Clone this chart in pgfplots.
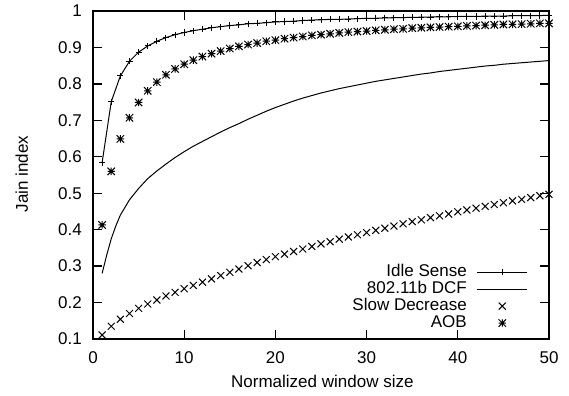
\documentclass[border=0pt]{standalone}
\usepackage{fontspec}
\setmainfont{Liberation Sans}
\usepackage{pgfplots}
\pgfplotsset{compat=1.18}
\pgfdeclareplotmark{gpstar}{%
  \pgfpathmoveto{\pgfqpoint{-\pgfplotmarksize}{0pt}}\pgfpathlineto{\pgfqpoint{\pgfplotmarksize}{0pt}}%
  \pgfpathmoveto{\pgfqpoint{0pt}{-\pgfplotmarksize}}\pgfpathlineto{\pgfqpoint{0pt}{\pgfplotmarksize}}%
  \pgfpathmoveto{\pgfqpoint{-\pgfplotmarksize}{-\pgfplotmarksize}}\pgfpathlineto{\pgfqpoint{\pgfplotmarksize}{\pgfplotmarksize}}%
  \pgfpathmoveto{\pgfqpoint{-\pgfplotmarksize}{\pgfplotmarksize}}\pgfpathlineto{\pgfqpoint{\pgfplotmarksize}{-\pgfplotmarksize}}%
  \pgfusepathqstroke}
\newcommand{\gfont}{\fontsize{17bp}{20bp}\selectfont}
\begin{document}
\begin{tikzpicture}
\begin{axis}[
  scale only axis,
  width=456bp, height=328bp,
  xmin=0, xmax=50, ymin=0.1, ymax=1,
  xtick={0,10,20,30,40,50},
  ytick={0.1,0.2,0.3,0.4,0.5,0.6,0.7,0.8,0.9,1},
  yticklabels={0.1,0.2,0.3,0.4,0.5,0.6,0.7,0.8,0.9,1},
  /pgf/number format/assume math mode=true,
  tick label style={font=\gfont, inner sep=0pt},
  xticklabel shift=12.5bp,
  yticklabel shift=11bp,
  tick align=inside,
  major tick length=9bp,
  tick style={line width=1.3bp, black},
  axis line style={line width=1.7bp},
  clip=false,
  xlabel={Normalized window size},
  ylabel={Jain index},
  label style={font=\gfont},
  xlabel style={at={(axis description cs:0.503,-0.149)}, anchor=base},
  ylabel style={at={(axis description cs:-0.156,0.503)}, anchor=center},
  legend plot pos=right,
  legend cell align=right,
  legend image code/.code={\draw[mark repeat=2,mark phase=2,#1] plot coordinates {(0bp,0bp) (25bp,0bp) (50bp,0bp)};},
  legend style={draw=none, fill=none, font=\gfont, at={(0.9539,0.0238)}, anchor=south east,
    inner sep=0pt, column sep=10bp, row sep=1bp,
    nodes={inner sep=0pt, text height=12.4bp, text depth=3.5bp}},
]
\coordinate (SW) at (rel axis cs:0,0);
\coordinate (NE) at (rel axis cs:1,1);
% Idle Sense
\addplot[black, line width=1bp, mark=+, mark size=3.1bp, mark options={line width=1bp}] coordinates {
(1,0.584)(2,0.751)(3,0.822)(4,0.862)(5,0.887)(6,0.904)(7,0.917)(8,0.927)(9,0.935)(10,0.941)
(11,0.946)(12,0.950)(13,0.954)(14,0.957)(15,0.960)(16,0.962)(17,0.965)(18,0.966)(19,0.968)(20,0.970)
(21,0.971)(22,0.972)(23,0.974)(24,0.975)(25,0.976)(26,0.977)(27,0.977)(28,0.978)(29,0.979)(30,0.980)
(31,0.980)(32,0.981)(33,0.9815)(34,0.982)(35,0.9825)(36,0.983)(37,0.9835)(38,0.984)(39,0.984)(40,0.985)
(41,0.985)(42,0.985)(43,0.986)(44,0.986)(45,0.986)(46,0.987)(47,0.987)(48,0.987)(49,0.9875)(50,0.988)
};
\addlegendentry{Idle Sense}
% 802.11b DCF
\addplot[black, line width=1bp, mark=none] coordinates {
(1,0.280)(1.5,0.330)(2,0.375)(2.5,0.410)(3,0.440)(4,0.482)(5,0.513)(6,0.540)(7,0.561)(8,0.580)(9,0.598)(10,0.614)
(11,0.629)(12,0.642)(13,0.655)(14,0.668)(15,0.680)(16,0.691)(17,0.703)(18,0.714)(19,0.725)(20,0.735)
(21,0.744)(22,0.753)(23,0.761)(24,0.768)(25,0.775)(26,0.781)(27,0.787)(28,0.792)(29,0.797)(30,0.802)
(31,0.807)(32,0.811)(33,0.815)(34,0.819)(35,0.823)(36,0.827)(37,0.830)(38,0.834)(39,0.837)(40,0.840)
(41,0.843)(42,0.846)(43,0.849)(44,0.851)(45,0.854)(46,0.856)(47,0.858)(48,0.860)(49,0.862)(50,0.864)
};
\addlegendentry{802.11b DCF}
% Slow Decrease
\addplot[black, only marks, mark=x, mark size=4.9bp, mark options={line width=1bp}] coordinates {
(1,0.111)(2,0.135)(3,0.154)(4,0.170)(5,0.184)(6,0.196)(7,0.207)(8,0.218)(9,0.228)(10,0.238)
(11,0.247)(12,0.256)(13,0.265)(14,0.274)(15,0.283)(16,0.292)(17,0.301)(18,0.310)(19,0.318)(20,0.326)
(21,0.333)(22,0.340)(23,0.347)(24,0.354)(25,0.361)(26,0.367)(27,0.374)(28,0.380)(29,0.386)(30,0.392)
(31,0.398)(32,0.404)(33,0.410)(34,0.416)(35,0.422)(36,0.427)(37,0.433)(38,0.438)(39,0.443)(40,0.449)
(41,0.454)(42,0.459)(43,0.464)(44,0.469)(45,0.474)(46,0.479)(47,0.483)(48,0.488)(49,0.493)(50,0.497)
};
\addlegendentry{Slow Decrease}
% AOB
\addplot[black, only marks, mark=gpstar, mark size=3.7bp, mark options={line width=1bp}] coordinates {
(1,0.413)(2,0.560)(3,0.649)(4,0.707)(5,0.749)(6,0.781)(7,0.805)(8,0.825)(9,0.841)(10,0.854)
(11,0.865)(12,0.875)(13,0.883)(14,0.890)(15,0.897)(16,0.903)(17,0.908)(18,0.912)(19,0.917)(20,0.920)
(21,0.924)(22,0.927)(23,0.930)(24,0.933)(25,0.935)(26,0.9375)(27,0.940)(28,0.942)(29,0.9435)(30,0.945)
(31,0.947)(32,0.9485)(33,0.950)(34,0.951)(35,0.953)(36,0.954)(37,0.955)(38,0.956)(39,0.957)(40,0.958)
(41,0.959)(42,0.960)(43,0.961)(44,0.962)(45,0.963)(46,0.9635)(47,0.964)(48,0.965)(49,0.966)(50,0.966)
};
\addlegendentry{AOB}
\end{axis}
\pgfresetboundingbox
\useasboundingbox ([shift={(-93bp,-57bp)}]SW) rectangle ([shift={(20bp,11bp)}]NE);
\end{tikzpicture}
\end{document}
